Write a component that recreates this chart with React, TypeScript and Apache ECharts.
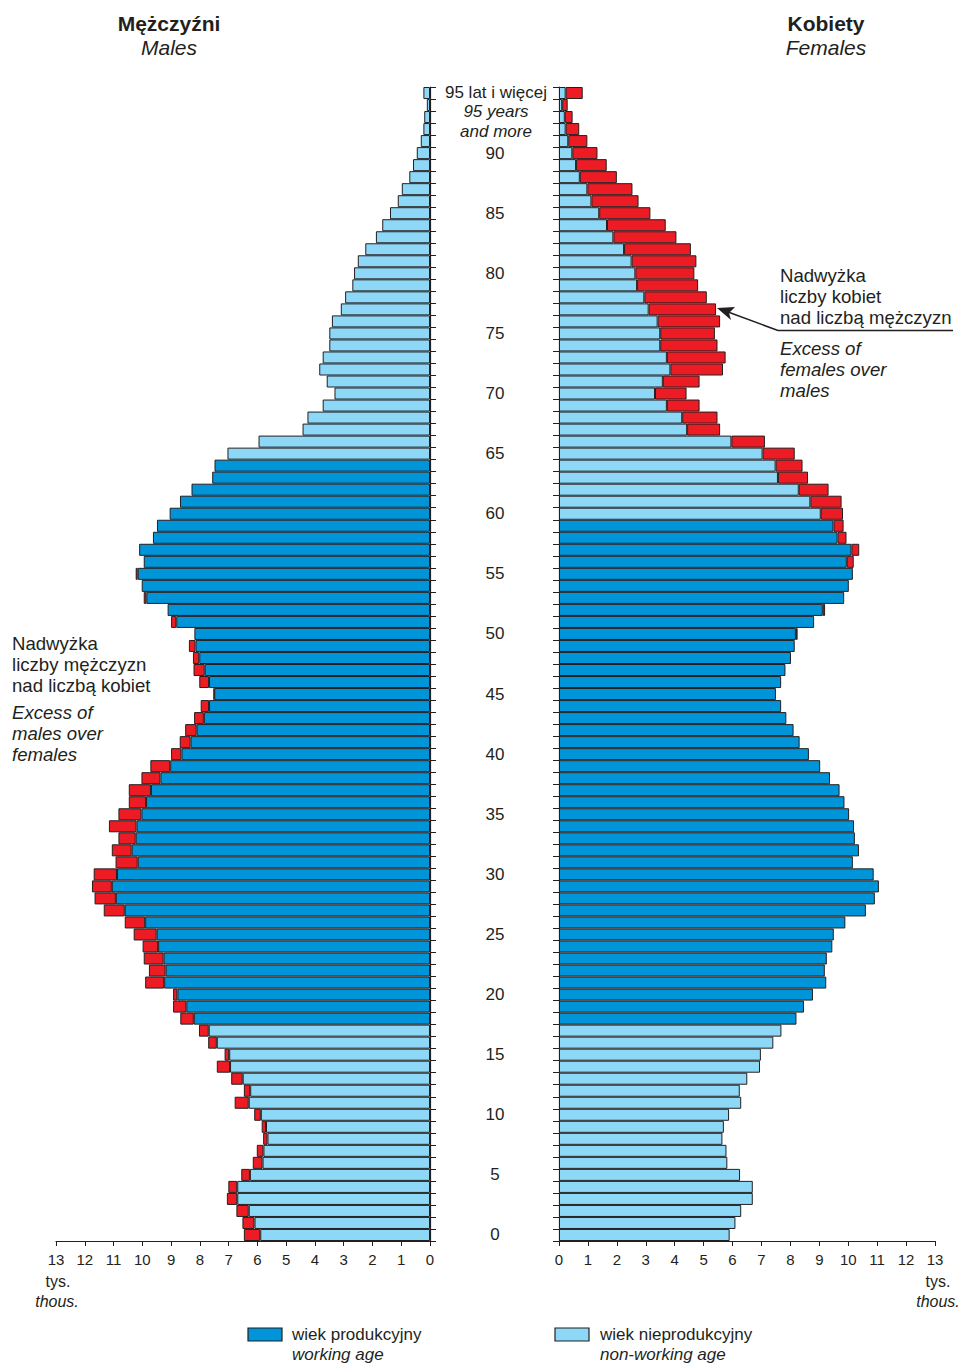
import React, { useEffect, useRef } from "react";
import * as echarts from "echarts";

// Age groups 0 .. 95+ (index = age)
const ages: string[] = Array.from({ length: 96 }, (_, i) => String(i));

// Males, thousands (age 0 -> 95+)
const males: number[] = [
  6.47, 6.52, 6.73, 7.06, 7.01, 6.56, 6.16, 6.02, 5.8, 5.85,
  6.11, 6.79, 6.47, 6.91, 7.41, 7.14, 7.71, 8.03, 8.68, 8.93,
  8.93, 9.9, 9.77, 9.95, 9.99, 10.3, 10.61, 11.34, 11.66, 11.75,
  11.69, 10.93, 11.06, 10.83, 11.16, 10.83, 10.47, 10.47, 10.03, 9.72,
  9.0, 8.7, 8.51, 8.2, 7.97, 7.52, 8.02, 8.22, 8.24, 8.38,
  8.19, 9.0, 9.12, 9.95, 10.02, 10.23, 9.95, 10.11, 9.63, 9.49,
  9.05, 8.69, 8.29, 7.57, 7.49, 7.04, 5.96, 4.43, 4.26, 3.73,
  3.32, 3.59, 3.85, 3.73, 3.5, 3.5, 3.41, 3.1, 2.95, 2.7,
  2.64, 2.51, 2.25, 1.88, 1.66, 1.39, 1.12, 0.98, 0.72, 0.59,
  0.46, 0.32, 0.23, 0.2, 0.11, 0.23,
];

// Females, thousands (age 0 -> 95+)
const females: number[] = [
  5.9, 6.1, 6.3, 6.7, 6.7, 6.26, 5.82, 5.79, 5.65, 5.7,
  5.88, 6.3, 6.25, 6.51, 6.95, 6.98, 7.41, 7.69, 8.21, 8.47,
  8.78, 9.24, 9.19, 9.26, 9.45, 9.5, 9.9, 10.61, 10.92, 11.06,
  10.88, 10.16, 10.37, 10.23, 10.2, 10.03, 9.87, 9.7, 9.37, 9.03,
  8.64, 8.32, 8.11, 7.86, 7.68, 7.5, 7.68, 7.83, 8.02, 8.15,
  8.25, 8.82, 9.2, 9.86, 10.02, 10.16, 10.19, 10.38, 9.94, 9.84,
  9.82, 9.77, 9.32, 8.61, 8.42, 8.15, 7.12, 5.57, 5.48, 4.86,
  4.41, 4.86, 5.67, 5.76, 5.48, 5.39, 5.57, 5.43, 5.11, 4.81,
  4.68, 4.75, 4.56, 4.06, 3.69, 3.16, 2.75, 2.54, 2.0, 1.65,
  1.33, 0.98, 0.7, 0.47, 0.3, 0.82,
];

// Working age ranges
const maleWorking: [number, number] = [18, 64];
const femaleWorking: [number, number] = [18, 59];

const xTicks: number[] = [0, 13];

const DARK = "#0094d9";
const LIGHT = "#8dd7f7";
const RED = "#ed1c24";
const INK = "#231f20";
const FONT = '"Liberation Sans", Arial, sans-serif';

function txt(x: number, y: number, text: string, opts: any = {}) {
  return {
    type: "text",
    x,
    y,
    silent: true,
    style: {
      text,
      fill: INK,
      fontFamily: FONT,
      fontSize: opts.size || 17,
      fontStyle: opts.italic ? "italic" : "normal",
      fontWeight: opts.bold ? "bold" : "normal",
      align: opts.align || "left",
      verticalAlign: "middle",
    },
  };
}

export default function App() {
  const ref = useRef<HTMLDivElement>(null);

  useEffect(() => {
    if (!ref.current) return;
    const chart = echarts.init(ref.current, null, { renderer: "svg" });

    const border = { borderColor: INK, borderWidth: 1 };
    const base = (a: number[], b: number[], w: [number, number]) =>
      a.map((v, i) => ({
        value: Math.min(v, b[i]),
        itemStyle: { color: i >= w[0] && i <= w[1] ? DARK : LIGHT, ...border },
      }));
    const excess = (a: number[], b: number[]) =>
      a.map((v, i) => (v - b[i] > 0.001 ? v - b[i] : "-"));

    const yCommon = {
      type: "category",
      data: ages,
      boundaryGap: true,
      axisLine: { show: true, lineStyle: { color: INK, width: 1.2 } },
      axisTick: { show: true, interval: 0, length: 6, lineStyle: { color: INK } },
      splitLine: { show: false },
    };
    const xCommon = {
      type: "value",
      min: xTicks[0],
      max: xTicks[1],
      interval: 1,
      axisLine: { show: true, lineStyle: { color: INK, width: 1.2 } },
      axisTick: { show: true, length: 5, lineStyle: { color: INK } },
      axisLabel: { color: INK, fontSize: 15, fontFamily: FONT, margin: 11 },
      splitLine: { show: false },
    };

    const ann = 18.6;

    chart.setOption({
      animation: false,
      textStyle: { fontFamily: FONT },
      grid: [
        { left: 56, right: 532, top: 87, height: 1154 },
        { left: 559, right: 27, top: 87, height: 1154 },
      ],
      xAxis: [
        { ...xCommon, gridIndex: 0, inverse: true },
        { ...xCommon, gridIndex: 1 },
      ],
      yAxis: [
        {
          ...yCommon,
          gridIndex: 0,
          position: "right",
          axisLabel: {
            show: true,
            interval: 0,
            color: INK,
            fontSize: 17,
            fontFamily: FONT,
            align: "center",
            margin: 65,
            padding: [3, 0, 0, 0],
            formatter: (v: string, i: number) => (i % 5 === 0 && i < 95 ? v : ""),
          },
        },
        { ...yCommon, gridIndex: 1, position: "left", axisLabel: { show: false } },
      ],
      series: [
        {
          type: "bar",
          xAxisIndex: 0,
          yAxisIndex: 0,
          stack: "m",
          barCategoryGap: "0%",
          data: base(males, females, maleWorking),
        },
        {
          type: "bar",
          xAxisIndex: 0,
          yAxisIndex: 0,
          stack: "m",
          barCategoryGap: "0%",
          itemStyle: { color: RED, ...border },
          data: excess(males, females),
        },
        {
          type: "bar",
          xAxisIndex: 1,
          yAxisIndex: 1,
          stack: "f",
          barCategoryGap: "0%",
          data: base(females, males, femaleWorking),
        },
        {
          type: "bar",
          xAxisIndex: 1,
          yAxisIndex: 1,
          stack: "f",
          barCategoryGap: "0%",
          itemStyle: { color: RED, ...border },
          data: excess(females, males),
        },
      ],
      graphic: [
        txt(169, 23, "Mężczyźni", { size: 21, bold: true, align: "center" }),
        txt(169, 47, "Males", { size: 21, italic: true, align: "center" }),
        txt(826, 23, "Kobiety", { size: 21, bold: true, align: "center" }),
        txt(826, 47, "Females", { size: 21, italic: true, align: "center" }),

        txt(496, 92, "95 lat i więcej", { align: "center" }),
        txt(496, 111, "95 years", { italic: true, align: "center" }),
        txt(496, 131, "and more", { italic: true, align: "center" }),

        txt(780, 275, "Nadwyżka", { size: ann }),
        txt(780, 296, "liczby kobiet", { size: ann }),
        txt(780, 317, "nad liczbą mężczyzn", { size: ann }),
        txt(780, 348, "Excess of", { italic: true, size: ann }),
        txt(780, 369, "females over", { italic: true, size: ann }),
        txt(780, 390, "males", { italic: true, size: ann }),
        {
          type: "line",
          silent: true,
          shape: { x1: 778, y1: 330.5, x2: 953, y2: 330.5 },
          style: { stroke: INK, lineWidth: 1.5 },
        },
        {
          type: "line",
          silent: true,
          shape: { x1: 778, y1: 330.5, x2: 728, y2: 312 },
          style: { stroke: INK, lineWidth: 1.5 },
        },
        {
          type: "polygon",
          silent: true,
          shape: { points: [[717, 308], [731, 320], [729, 313], [735, 307]] },
          style: { fill: INK },
        },

        txt(12, 643, "Nadwyżka", { size: ann }),
        txt(12, 664, "liczby mężczyzn", { size: ann }),
        txt(12, 685, "nad liczbą kobiet", { size: ann }),
        txt(12, 712, "Excess of", { italic: true, size: ann }),
        txt(12, 733, "males over", { italic: true, size: ann }),
        txt(12, 754, "females", { italic: true, size: ann }),

        txt(58, 1281, "tys.", { size: 16, align: "center" }),
        txt(57, 1301, "thous.", { size: 16, italic: true, align: "center" }),
        txt(938, 1281, "tys.", { size: 16, align: "center" }),
        txt(938, 1301, "thous.", { size: 16, italic: true, align: "center" }),

        {
          type: "rect",
          silent: true,
          shape: { x: 248, y: 1328, width: 34, height: 13 },
          style: { fill: DARK, stroke: INK, lineWidth: 1.2 },
        },
        txt(292, 1334, "wiek produkcyjny"),
        txt(292, 1354, "working age", { italic: true }),
        {
          type: "rect",
          silent: true,
          shape: { x: 555, y: 1328, width: 34, height: 13 },
          style: { fill: LIGHT, stroke: INK, lineWidth: 1.2 },
        },
        txt(600, 1334, "wiek nieprodukcyjny"),
        txt(600, 1354, "non-working age", { italic: true }),
      ],
    });

    return () => chart.dispose();
  }, []);

  return (
    <div
      ref={ref}
      style={{ position: "absolute", left: 0, top: 0, width: 962, height: 1364, background: "#fff" }}
    />
  );
}
